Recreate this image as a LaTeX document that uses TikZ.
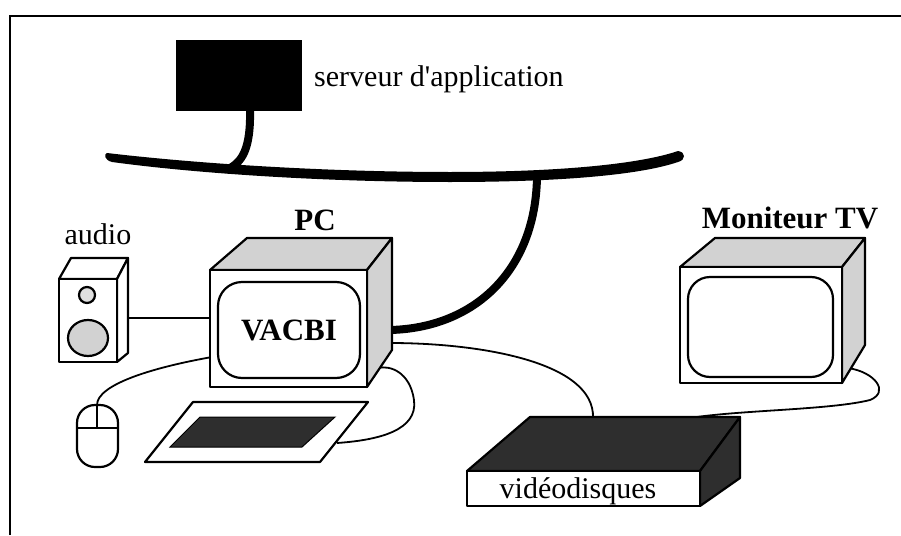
\documentclass[tikz,border=0pt]{standalone}
\usepackage{fontspec}
\setmainfont{Liberation Serif}
\begin{document}
\begin{tikzpicture}[x=1pt,y=-1pt,
  outline/.style={line width=2.2pt, line join=round},
  shadedface/.style={outline, fill=gray!35},
  darkface/.style={outline, fill=black!82},
  cable/.style={line width=1.8pt},
  trunk/.style={line width=8pt},
  lbl/.style={font=\fontsize{30}{34}\selectfont, inner sep=0pt},
  blbl/.style={font=\fontsize{31}{34}\selectfont\bfseries, inner sep=0pt}]
\useasboundingbox (0,0) rectangle (901,535);
\fill[white] (0,0) rectangle (901,535);
% frame
\draw[line width=2pt] (10,535) -- (10,16) -- (901,16);

% application server
\fill (176,40) rectangle (302,111);
\node[lbl, anchor=base west] (srvlbl) at (314,86) {serveur d\textquotesingle application};

% network bus
\fill (107,153) .. controls (200,164) and (330,172) .. (450,172)
  .. controls (560,172) and (640,164) .. (678,151)
  .. controls (686,152) and (686,160) .. (678,162)
  .. controls (640,175) and (560,182) .. (450,182)
  .. controls (330,182) and (200,174) .. (112,162)
  .. controls (104,160) and (104,154) .. (107,153) -- cycle;

% cable end points
\coordinate (srvout) at (250,108);
\coordinate (bustap1) at (226,170);
\coordinate (bustap2) at (537,176);
\coordinate (pcnet) at (390,330);
\coordinate (pcaudio) at (212,318);
\coordinate (spkout) at (126,318);
\coordinate (mouseout) at (97,405);
\coordinate (pcmouse) at (212,357);
\coordinate (kbout) at (337,443);
\coordinate (pckb) at (378,368);
\coordinate (pcvideo) at (390,343);
\coordinate (vdin) at (593,418);
\coordinate (tvout) at (848,368);
\coordinate (vdtv) at (690,418);

% drops from the bus
\draw[trunk] (srvout) .. controls (251,150) and (242,163) .. (bustap1);
\draw[trunk] (bustap2) .. controls (536,270) and (475,328) .. (pcnet);

% thin cables
\draw[cable] (spkout) -- (pcaudio);
\draw[cable] (mouseout) .. controls (97,385) and (150,368) .. (pcmouse);
\draw[cable] (kbout) .. controls (380,440) and (418,430) .. (414,400)
  .. controls (410,372) and (390,365) .. (pckb);
\draw[cable] (pcvideo) .. controls (480,343) and (595,362) .. (vdin);
\draw[cable] (tvout) .. controls (875,372) and (890,392) .. (870,400)
  .. controls (830,410) and (740,410) .. (vdtv);

% PC monitor
\filldraw[shadedface] (210,270) -- (247,238) -- (392,238) -- (367,270) -- cycle;
\filldraw[shadedface] (367,270) -- (392,238) -- (392,350) -- (367,387) -- cycle;
\filldraw[outline, fill=white] (210,270) rectangle (367,387);
\draw[outline, rounded corners=24pt] (218,282) rectangle (360,378);
\node[blbl] (vacbi) at (289,330) {VACBI};
\node[blbl, anchor=base] (pclbl) at (315,230) {PC};

% speaker
\filldraw[outline, fill=white] (59,279) -- (71,258) -- (128,258) -- (117,279) -- cycle;
\filldraw[outline, fill=white] (117,279) -- (128,258) -- (128,353) -- (117,362) -- cycle;
\filldraw[outline, fill=white] (59,279) rectangle (117,362);
\filldraw[outline, fill=gray!25] (87,295) circle (8);
\filldraw[outline, fill=gray!35] (88,338) ellipse (20 and 18);
\node[lbl, anchor=base] (audiolbl) at (98,244) {audio};

% mouse
\draw[outline, rounded corners=18pt] (77,405) rectangle (118,467);
\draw[outline] (77,428) -- (118,428);
\draw[outline] (97,405) -- (97,428);

% keyboard
\filldraw[outline, fill=white] (145,462) -- (320,462) -- (368,402) -- (193,402) -- cycle;
\filldraw[line width=1pt, fill=black!82] (170,447) -- (302,447) -- (335,417) -- (200,417) -- cycle;

% videodisc player
\filldraw[darkface] (467,471) -- (530,417) -- (740,417) -- (700,471) -- cycle;
\filldraw[darkface] (700,471) -- (740,417) -- (740,478) -- (700,506) -- cycle;
\filldraw[outline, fill=white] (467,471) rectangle (700,506);
\node[lbl, anchor=base] (vdlbl) at (578,498) {vidéodisques};

% TV monitor
\filldraw[shadedface] (680,267) -- (715,238) -- (865,238) -- (842,267) -- cycle;
\filldraw[shadedface] (842,267) -- (865,238) -- (865,345) -- (842,383) -- cycle;
\filldraw[outline, fill=white] (680,267) rectangle (842,383);
\draw[outline, rounded corners=22pt] (688,277) rectangle (833,377);
\node[blbl, anchor=base] (tvlbl) at (790,228) {Moniteur TV};
\end{tikzpicture}
\end{document}
